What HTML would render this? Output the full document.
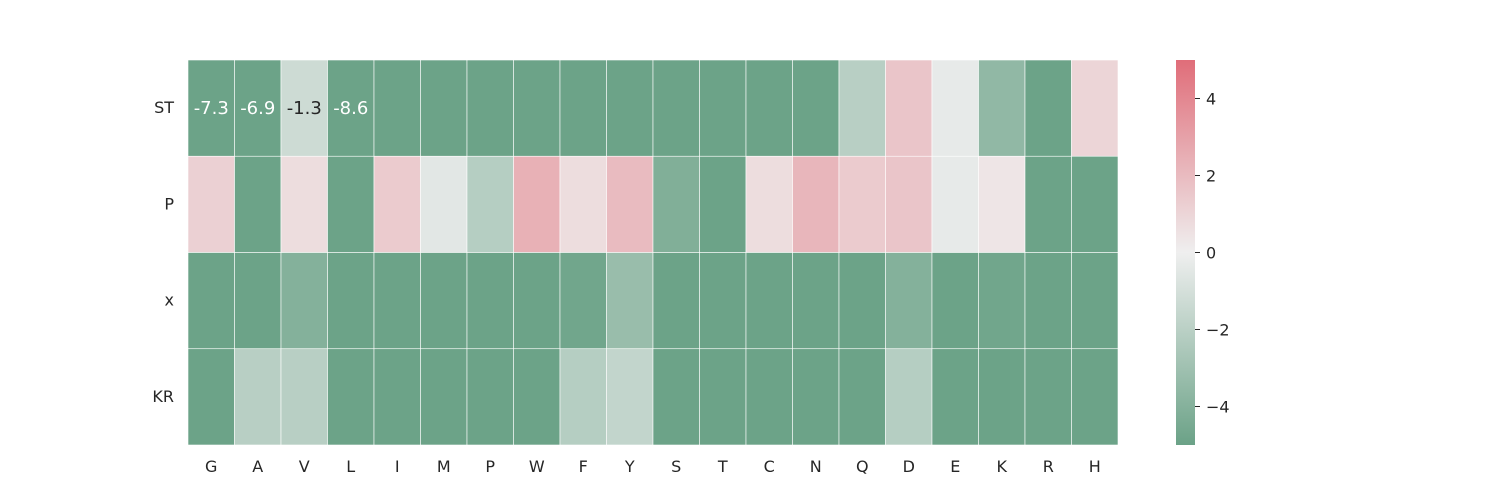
<!DOCTYPE html>
<html><head><meta charset="utf-8"><style>
body{margin:0;background:#fff;overflow:hidden;}
svg{display:block;}
svg text{font-family:"DejaVu Sans","Liberation Sans",sans-serif;fill:#262626;}
</style></head><body>
<svg id="chart" width="1500" height="500" xmlns="http://www.w3.org/2000/svg">
<defs>
<linearGradient id="cbg" x1="0" y1="1" x2="0" y2="0">
<stop offset="0" stop-color="#6ba287"/>
<stop offset="0.5" stop-color="#efefef"/>
<stop offset="1" stop-color="#e06d79"/>
</linearGradient>
</defs>
<g id="cells"></g>
<g id="labels"></g>
<rect x="1176" y="60" width="19" height="385" fill="url(#cbg)"/>
<g id="cb"></g>
</svg>
<script>
const cols=["G","A","V","L","I","M","P","W","F","Y","S","T","C","N","Q","D","E","K","R","H"];
const rows=["ST","P","x","KR"];
const rowST=[-7.3,-6.9,-1.3,-8.6,-6,-6,-6,-6,-6,-6,-6,-6,-6,-6,-2.1,1.6,-0.3,-3.6,-5.5,1.0];
const rowP=[1.2,-5.5,0.7,-5.5,1.4,-0.5,-2.2,2.4,0.7,2.0,-4.2,-5.5,0.7,2.2,1.4,1.6,-0.3,0.4,-5.5,-5.5];
const rowX=[-5.5,-5.5,-4.1,-5.5,-5.5,-5.5,-5.5,-5.5,-4.8,-3.3,-5.5,-5.5,-5.5,-5.5,-5.5,-4.1,-5.5,-4.8,-5.5,-5.5];
const rowKR=[-5.5,-2.1,-2.1,-5.5,-5.5,-5.5,-5.5,-5.5,-2.2,-1.7,-5.5,-5.5,-5.5,-5.5,-5.5,-2.2,-5.5,-5.5,-5.5,-5.5];
const annot=["-7.3","-6.9","-1.3","-8.6"];
const cbTicks=[4,2,0,-2,-4];
const vmin=-5,vmax=5;
const values=[rowST,rowP,rowX,rowKR];
const X0=188,X1=1118,Y0=60,Y1=445;
const cw=(X1-X0)/cols.length, ch=(Y1-Y0)/rows.length;
const xs=i=>X0+i*cw, ys=j=>Y0+j*ch;
const cy=v=>Y1-(v-vmin)/(vmax-vmin)*(Y1-Y0);
function col(v){
  v=Math.max(vmin,Math.min(vmax,v));
  const g=[108,163,136],c=[239,239,239],r=[224,109,121];
  let a,b,t;
  if(v<0){a=c;b=g;t=-v/5;}else{a=c;b=r;t=v/5;}
  return `rgb(${a.map((x,k)=>Math.round(x+(b[k]-x)*t)).join(',')})`;
}
const NS="http://www.w3.org/2000/svg";
const cells=document.getElementById('cells'),labels=document.getElementById('labels'),cb=document.getElementById('cb');
function mk(tag,attrs,parent,txt){const e=document.createElementNS(NS,tag);for(const k in attrs)e.setAttribute(k,attrs[k]);if(txt!==undefined)e.textContent=txt;parent.appendChild(e);return e;}
values.forEach((row,j)=>row.forEach((v,i)=>{
  const r=mk('rect',{x:xs(i),y:ys(j),width:cw,height:ch,fill:col(v),stroke:'#fff','stroke-width':0.6},cells);
  
  
}));
annot.forEach((a,i)=>{
  const v=rowST[i];
  const t=mk('text',{x:xs(i)+cw/2,y:ys(0)+ch/2+6,'text-anchor':'middle','font-size':18},labels,a);
  t.style.fill=(Math.abs(v)<2.5)?'#262626':'#ffffff';
  
  
});
cols.forEach((c,i)=>{
  const t=mk('text',{x:xs(i)+cw/2,y:472,'text-anchor':'middle','font-size':16},labels,c);
  
  
});
rows.forEach((r,j)=>{
  const t=mk('text',{x:174,y:ys(j)+ch/2+5,'text-anchor':'end','font-size':16},labels,r);
  
  
});
cbTicks.forEach(v=>{
  const y=cy(v);
  const l=mk('line',{x1:1195,x2:1200,y1:y,y2:y,stroke:'#262626','stroke-width':1},cb);
  
  
  const t=mk('text',{x:1206,y:y+6,'font-size':16},cb,v<0?'\u2212'+(-v):String(v));
  
  
});
</script>
</body></html>
